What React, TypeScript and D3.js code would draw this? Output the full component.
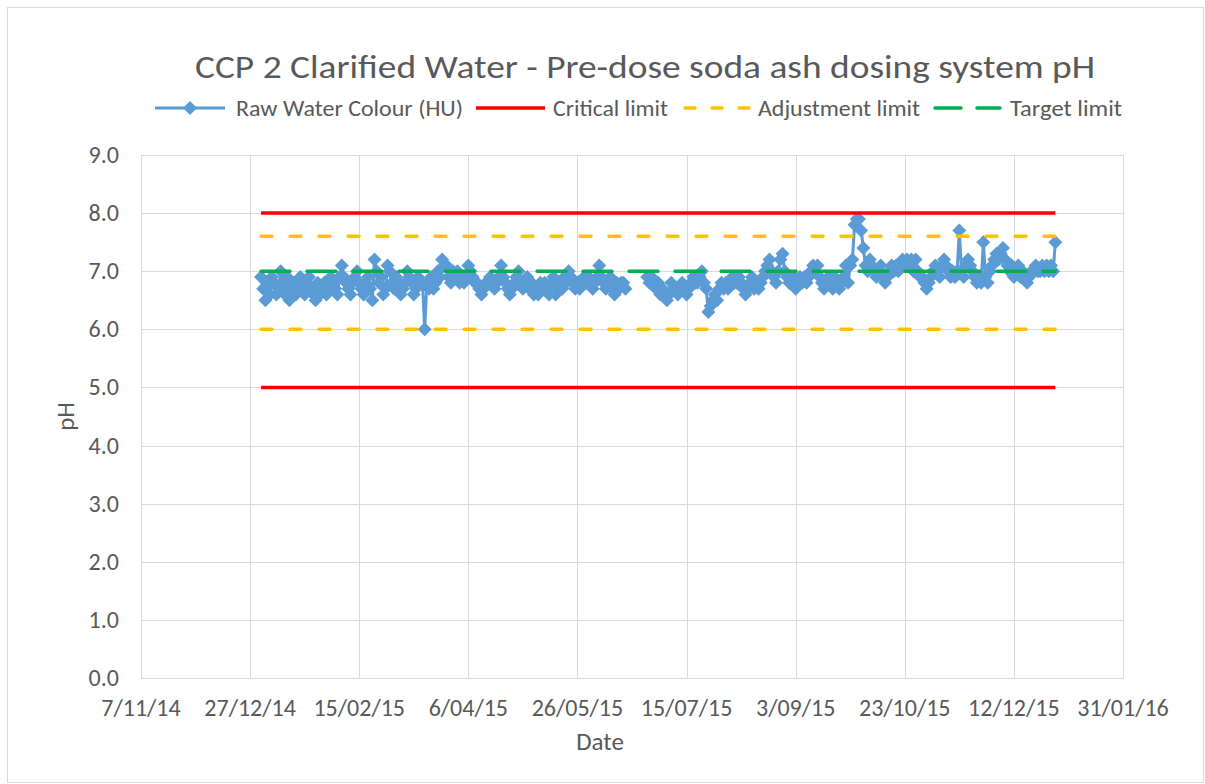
import React, { useEffect } from 'react';
import * as d3 from 'd3';

// daily pH readings for 2015, one array per month (null = no reading)
const janPh = [6.9, 6.7, 6.5, 6.8, 6.6, 6.9, 6.8, 6.6, 6.7, 7.0, 6.8, 6.6, 6.9, 6.5, 6.7, 6.8, 6.6, 6.7, 6.9, 6.7, 6.6, 6.8, 6.9, 6.7, 6.6, 6.5, 6.8, 6.6, 6.7, 6.8, 6.6];
const febPh = [6.7, 6.9, 6.8, 6.7, 6.6, 6.9, 7.1, 6.9, 6.8, 6.7, 6.6, 6.8, 6.9, 7.0, 6.8, 6.7, 6.6, 6.8, 6.9, 6.7, 6.5, 7.2, 7.0, 6.8, 6.9, 6.6, 6.7, 7.1];
const marPh = [7.0, 6.8, 6.7, 6.9, 6.8, 6.6, 6.7, 6.8, 7.0, 6.9, 6.8, 6.6, 6.7, 6.9, 6.8, 6.8, 6.0, 6.8, 6.7, 6.9, 6.7, 6.8, 7.0, 6.9, 7.2, 7.1, 7.1, 6.9, 6.8, 7.0, 6.9];
const aprPh = [7.0, 6.8, 6.9, 6.8, 6.9, 7.1, 7.0, 6.9, 6.8, 6.8, 6.7, 6.6, 6.7, 6.8, 6.8, 6.9, 6.8, 6.7, 6.8, 6.9, 7.1, 6.9, 6.8, 6.7, 6.6, 6.7, 6.8, 6.9, 7.0, 6.8];
const mayPh = [6.7, 6.8, 6.9, 6.7, 6.8, 6.6, 6.7, 6.6, 6.8, 6.7, 6.8, 6.7, 6.6, 6.8, 6.9, 6.6, 6.7, 6.8, 6.7, 6.9, 6.8, 7.0, 6.9, 6.8, 6.7, 6.8, 6.7, 6.8, 6.9, 6.8, 6.9];
const junPh = [6.8, 6.7, 6.8, 6.9, 7.1, 6.9, 6.8, 6.7, 6.8, 6.9, 6.7, 6.6, 6.8, 6.7, 6.8, 6.8, 6.7, null, null, null, null, null, null, null, null, null, 6.9, 6.8, 6.9, 6.8];
const julPh = [6.7, 6.8, 6.6, 6.7, 6.6, 6.5, 6.6, 6.8, 6.7, 6.7, 6.6, 6.7, 6.8, 6.7, 6.6, 6.7, 6.8, 6.9, 6.8, 6.8, 6.9, 7.0, 6.8, 6.7, 6.3, 6.4, 6.5, 6.6, 6.5, 6.7, 6.8];
const augPh = [6.7, 6.8, 6.7, 6.8, 6.9, 6.8, 6.8, 6.9, 6.8, 6.7, 6.6, 6.7, 6.8, 6.9, 6.7, 6.8, 6.7, 6.8, 6.9, 7.0, 7.1, 7.2, 7.0, 6.9, 6.8, 7.0, 7.2, 7.3, 7.0, 6.9, 6.8];
const sepPh = [6.8, 6.9, 6.7, 6.8, 6.9, 6.8, 6.9, 6.8, 6.9, 7.0, 7.1, 7.0, 7.1, 6.9, 6.8, 6.7, 6.8, 6.9, 6.8, 6.7, 6.9, 6.8, 6.7, 6.8, 6.9, 7.1, 6.8, 7.1, 7.2, 7.8];
const octPh = [7.9, 7.9, 7.7, 7.4, 7.1, 7.0, 7.2, 7.1, 7.0, 6.9, 7.0, 7.1, 6.9, 6.8, 6.9, 7.0, 7.1, 7.0, 7.1, 7.0, 7.1, 7.2, 7.1, 7.2, 7.1, 7.2, 7.0, 7.2, 7.0, 6.9, 6.9];
const novPh = [6.8, 6.7, 6.8, 6.9, 7.0, 7.1, 7.0, 6.9, 7.1, 7.2, 7.1, 7.0, 6.9, 7.0, 6.9, 7.0, 7.7, 7.0, 6.9, 7.1, 7.2, 7.1, 7.0, 6.9, 6.8, 6.9, 6.8, 7.5, 6.9, 6.8];
const decPh = [7.0, 7.1, 7.2, 7.3, 7.2, 7.3, 7.4, 7.2, 7.1, 7.0, 7.1, 6.9, 7.0, 7.1, 6.9, 7.0, 6.9, 6.8, 6.9, 7.0, 7.0, 7.1, 7.0, 7.0, 7.1, 7.0, 7.1, 7.0, 7.1, 7.0, 7.5];
const monthlyPh: (number | null)[][] = [janPh, febPh, marPh, aprPh, mayPh, junPh, julPh, augPh, sepPh, octPh, novPh, decPh];

const xTickLabels = ['7/11/14', '27/12/14', '15/02/15', '6/04/15', '26/05/15', '15/07/15', '3/09/15', '23/10/15', '12/12/15', '31/01/16'];
const yTicks = [0, 1, 2, 3, 4, 5, 6, 7, 8, 9];
const criticalLimits = [8.0, 5.0];
const adjustmentLimits = [7.6, 6.0];
const targetLimits = [7.0];
const limitRange = ['1/01/15', '31/12/15'];

const W = 1205, H = 784;
const plot = { left: 141, right: 1123, top: 155, bottom: 678 };
const FONT = "Carlito, Calibri, 'Open Sans', sans-serif";
const TXT = '#595959';
const GRID = '#d9d9d9';
const BLUE = '#5B9BD5';
const RED = '#FF0000';
const YELLOW = '#FFC000';
const GREEN = '#00B050';

const parse = d3.timeParse('%d/%m/%y');
const diamond = (r: number) => `M0,${-r}L${r},0L0,${r}L${-r},0Z`;

type Pt = { date: Date; v: number | null };

export default function App() {
  useEffect(() => {
    document.body.style.margin = '0';
  }, []);

  const tickDates = xTickLabels.map((t) => parse(t) as Date);
  const x = d3.scaleTime().domain([tickDates[0], tickDates[tickDates.length - 1]]).range([plot.left, plot.right]);
  const y = d3.scaleLinear().domain([0, 9]).range([plot.bottom, plot.top]);

  const points: Pt[] = [];
  monthlyPh.forEach((vals, m) => {
    vals.forEach((v, i) => points.push({ date: new Date(2015, m, i + 1), v }));
  });

  const line = d3
    .line<Pt>()
    .defined((p) => p.v !== null)
    .x((p) => x(p.date))
    .y((p) => y(p.v as number));

  const lx0 = x(parse(limitRange[0]) as Date);
  const lx1 = x(parse(limitRange[1]) as Date);

  const legendY = 108;

  return (
    <svg width={W} height={H} style={{ display: 'block', background: '#fff' }}>
      <rect x={7.5} y={7.5} width={W - 9} height={H - 9} fill="#fff" stroke={GRID} />

      {/* title */}
      <text x={645} y={78} textAnchor="middle" fontFamily={FONT} fontSize={33} fill={TXT}
        textLength={900} lengthAdjust="spacingAndGlyphs">
        CCP 2 Clarified Water - Pre-dose soda ash dosing system pH
      </text>

      {/* legend */}
      <g fontFamily={FONT} fontSize={23} fill={TXT}>
        <line x1={155} x2={225} y1={legendY} y2={legendY} stroke={BLUE} strokeWidth={3} />
        <path d={diamond(7)} transform={`translate(190,${legendY})`} fill={BLUE} />
        <text x={236} y={legendY + 8} textLength={227} lengthAdjust="spacingAndGlyphs">Raw Water Colour (HU)</text>
        <line x1={476} x2={545} y1={legendY} y2={legendY} stroke={RED} strokeWidth={3.5} />
        <text x={553} y={legendY + 8} textLength={115} lengthAdjust="spacingAndGlyphs">Critical limit</text>
        <line x1={685} x2={750} y1={legendY} y2={legendY} stroke={YELLOW} strokeWidth={3.5}
          strokeDasharray="10 17" strokeLinecap="round" />
        <text x={758} y={legendY + 8} textLength={162} lengthAdjust="spacingAndGlyphs">Adjustment limit</text>
        <line x1={935} x2={1000} y1={legendY} y2={legendY} stroke={GREEN} strokeWidth={3.5}
          strokeDasharray="26 16" strokeLinecap="round" />
        <text x={1010} y={legendY + 8} textLength={112} lengthAdjust="spacingAndGlyphs">Target limit</text>
      </g>

      {/* gridlines */}
      <g stroke={GRID} strokeWidth={1}>
        {yTicks.map((t) => (
          <line key={'h' + t} x1={plot.left} x2={plot.right} y1={Math.round(y(t)) + 0.5} y2={Math.round(y(t)) + 0.5} />
        ))}
        {tickDates.map((d, i) => (
          <line key={'v' + i} x1={Math.round(x(d)) + 0.5} x2={Math.round(x(d)) + 0.5} y1={plot.top} y2={plot.bottom} />
        ))}
      </g>

      {/* axis labels */}
      <g fontFamily={FONT} fontSize={24} fill={TXT}>
        {yTicks.map((t) => (
          <text key={'yl' + t} x={119} y={y(t) + 8} textAnchor="end">{t.toFixed(1)}</text>
        ))}
        {tickDates.map((d, i) => (
          <text key={'xl' + i} x={x(d)} y={716} textAnchor="middle">{xTickLabels[i]}</text>
        ))}
        <text x={600} y={750} textAnchor="middle" fontSize={25}>Date</text>
        <text transform={`translate(74,${(plot.top + plot.bottom) / 2}) rotate(-90)`} textAnchor="middle" fontSize={25}>pH</text>
      </g>

      {/* series */}
      <path d={line(points) || ''} fill="none" stroke={BLUE} strokeWidth={3} strokeLinejoin="round" />
      <g fill={BLUE}>
        {points.filter((p) => p.v !== null).map((p, i) => (
          <path key={i} d={diamond(7)} transform={`translate(${x(p.date)},${y(p.v as number)})`} />
        ))}
      </g>

      {/* limits */}
      {criticalLimits.map((v) => (
        <line key={'c' + v} x1={lx0} x2={lx1} y1={y(v)} y2={y(v)} stroke={RED} strokeWidth={3.5} />
      ))}
      {adjustmentLimits.map((v) => (
        <line key={'a' + v} x1={lx0} x2={lx1} y1={y(v)} y2={y(v)} stroke={YELLOW} strokeWidth={3.5}
          strokeDasharray="11 18" strokeLinecap="round" />
      ))}
      {targetLimits.map((v) => (
        <line key={'t' + v} x1={lx0} x2={lx1} y1={y(v)} y2={y(v)} stroke={GREEN} strokeWidth={3.5}
          strokeDasharray="29 17" strokeLinecap="round" />
      ))}
    </svg>
  );
}
